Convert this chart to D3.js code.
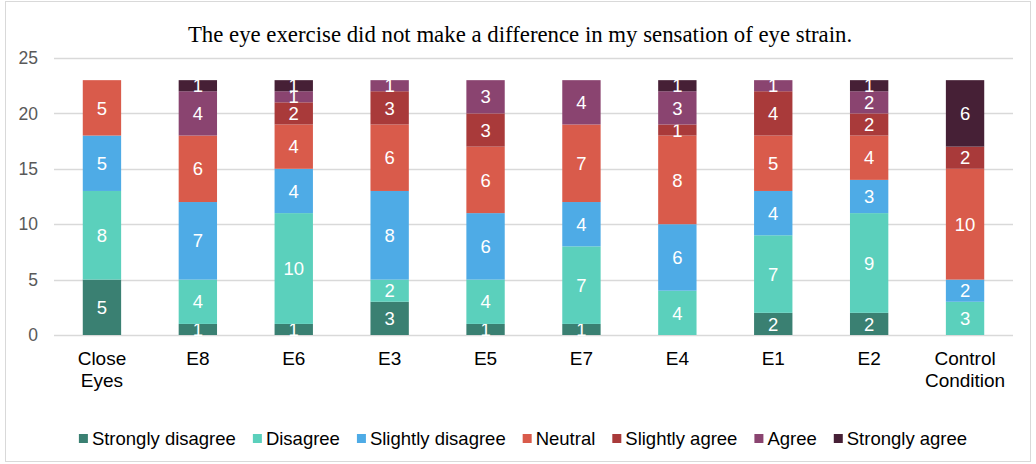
<!DOCTYPE html>
<html>
<head>
<meta charset="utf-8">
<script src="https://cdn.jsdelivr.net/npm/d3@7"></script>
<style>
  body { margin: 0; background: #fff; }
</style>
</head>
<body>
<div id="chart-area"></div>
<script>
var categories = ["Close Eyes", "E8", "E6", "E3", "E5", "E7", "E4", "E1", "E2", "Control Condition"];
var seriesNames = ["Strongly disagree", "Disagree", "Slightly disagree", "Neutral", "Slightly agree", "Agree", "Strongly agree"];
var stronglyDisagree = [5, 1, 1, 3, 1, 1, 0, 2, 2, 0];
var disagree         = [8, 4, 10, 2, 4, 7, 4, 7, 9, 3];
var slightlyDisagree = [5, 7, 4, 8, 6, 4, 6, 4, 3, 2];
var neutral          = [5, 6, 4, 6, 6, 7, 8, 5, 4, 10];
var slightlyAgree    = [0, 0, 2, 3, 3, 0, 1, 4, 2, 2];
var agree            = [0, 4, 1, 1, 3, 4, 3, 1, 2, 0];
var stronglyAgree    = [0, 1, 1, 0, 0, 0, 1, 0, 1, 6];
var yTicks = [0, 5, 10, 15, 20, 25];
var colors = ["#3a8072", "#5bd0bc", "#4eabe6", "#d95b4b", "#a93a3a", "#8a4470", "#462036"];

var W = 1036, H = 464;
var margin = { left: 54, right: 23, top: 58, bottom: 129 };
var width = W - margin.left - margin.right,
    height = H - margin.top - margin.bottom;

var svg = d3.select("#chart-area")
    .append("svg")
        .attr("width", W)
        .attr("height", H)
        .style("font-family", "Liberation Sans, Arial, sans-serif");

// outer border
svg.append("rect")
    .attr("x", 5.5).attr("y", 1.5)
    .attr("width", 1025).attr("height", 460)
    .attr("fill", "#fff")
    .attr("stroke", "#d9d9d9");

// Title
svg.append("text")
    .attr("x", 520)
    .attr("y", 42)
    .attr("text-anchor", "middle")
    .attr("font-family", "Liberation Serif, Times New Roman, serif")
    .attr("font-size", "22.8px")
    .attr("fill", "#000")
    .text("The eye exercise did not make a difference in my sensation of eye strain.");

var g = svg.append("g")
    .attr("transform", "translate(" + margin.left + "," + margin.top + ")");

var allSeries = [stronglyDisagree, disagree, slightlyDisagree, neutral, slightlyAgree, agree, stronglyAgree];
var table = categories.map(function(c, i) {
    var row = { cat: c };
    seriesNames.forEach(function(s, j) { row[s] = allSeries[j][i]; });
    return row;
});

var stack = d3.stack().keys(seriesNames)(table);

var x = d3.scaleBand()
    .domain(categories)
    .range([0, width])
    .paddingInner(0.6)
    .paddingOuter(0.3);

var y = d3.scaleLinear()
    .domain([0, 25])
    .range([height, 0]);

// gridlines
g.selectAll("line.grid")
    .data(yTicks)
    .enter().append("line")
        .attr("class", "grid")
        .attr("x1", 0).attr("x2", width)
        .attr("y1", function(d) { return Math.round(y(d)) + 0.5; })
        .attr("y2", function(d) { return Math.round(y(d)) + 0.5; })
        .attr("stroke", "#d9d9d9")
        .attr("stroke-width", 1.3);

// Y axis
var yAxisCall = d3.axisLeft(y).tickValues(yTicks).tickSize(0).tickPadding(16);
var yAxis = g.append("g").call(yAxisCall);
yAxis.select(".domain").remove();
yAxis.selectAll("text")
    .attr("font-size", "17.5px")
    .attr("fill", "#595959")
    .attr("font-family", "Liberation Sans, Arial, sans-serif");

// bars
var layers = g.selectAll("g.layer")
    .data(stack)
    .enter().append("g")
        .attr("class", "layer")
        .attr("fill", function(d, i) { return colors[i]; });

layers.selectAll("rect")
    .data(function(d) { return d; })
    .enter().append("rect")
        .attr("x", function(d) { return x(d.data.cat); })
        .attr("y", function(d) { return y(d[1]); })
        .attr("width", x.bandwidth())
        .attr("height", function(d) { return y(d[0]) - y(d[1]); });

// labels
layers.selectAll("text")
    .data(function(d) { return d.filter(function(p) { return p[1] - p[0] > 0; }); })
    .enter().append("text")
        .attr("x", function(d) { return x(d.data.cat) + x.bandwidth() / 2; })
        .attr("y", function(d) { return (y(d[0]) + y(d[1])) / 2; })
        .attr("dy", "0.36em")
        .attr("text-anchor", "middle")
        .attr("font-size", "18.5px")
        .attr("fill", "#fff")
        .text(function(d) { return d[1] - d[0]; });

// X axis labels
var xl = g.selectAll("text.xlab")
    .data(categories)
    .enter().append("text")
        .attr("class", "xlab")
        .attr("x", function(d) { return x(d) + x.bandwidth() / 2; })
        .attr("y", height + 30)
        .attr("text-anchor", "middle")
        .attr("font-size", "19px")
        .attr("fill", "#000");
xl.each(function(d) {
    var words = d.split(" ");
    var t = d3.select(this);
    words.forEach(function(w, i) {
        t.append("tspan")
            .attr("x", x(d) + x.bandwidth() / 2)
            .attr("dy", i === 0 ? 0 : 22)
            .text(w);
    });
});

// Legend
var legend = svg.append("g");
var lx = 0;
var items = legend.selectAll("g.item")
    .data(seriesNames)
    .enter().append("g")
        .attr("class", "item");
items.append("rect")
    .attr("width", 9).attr("height", 9)
    .attr("y", -11)
    .attr("fill", function(d, i) { return colors[i]; });
items.append("text")
    .attr("x", 13)
    .attr("font-size", "18.5px")
    .attr("fill", "#000")
    .text(function(d) { return d; });
items.each(function() {
    var w = this.getBBox().width;
    d3.select(this).attr("transform", "translate(" + lx + ",0)");
    lx += w + 17;
});
var total = lx - 17;
legend.attr("transform", "translate(" + (523 - total / 2) + ",445)");
</script>
</body>
</html>
